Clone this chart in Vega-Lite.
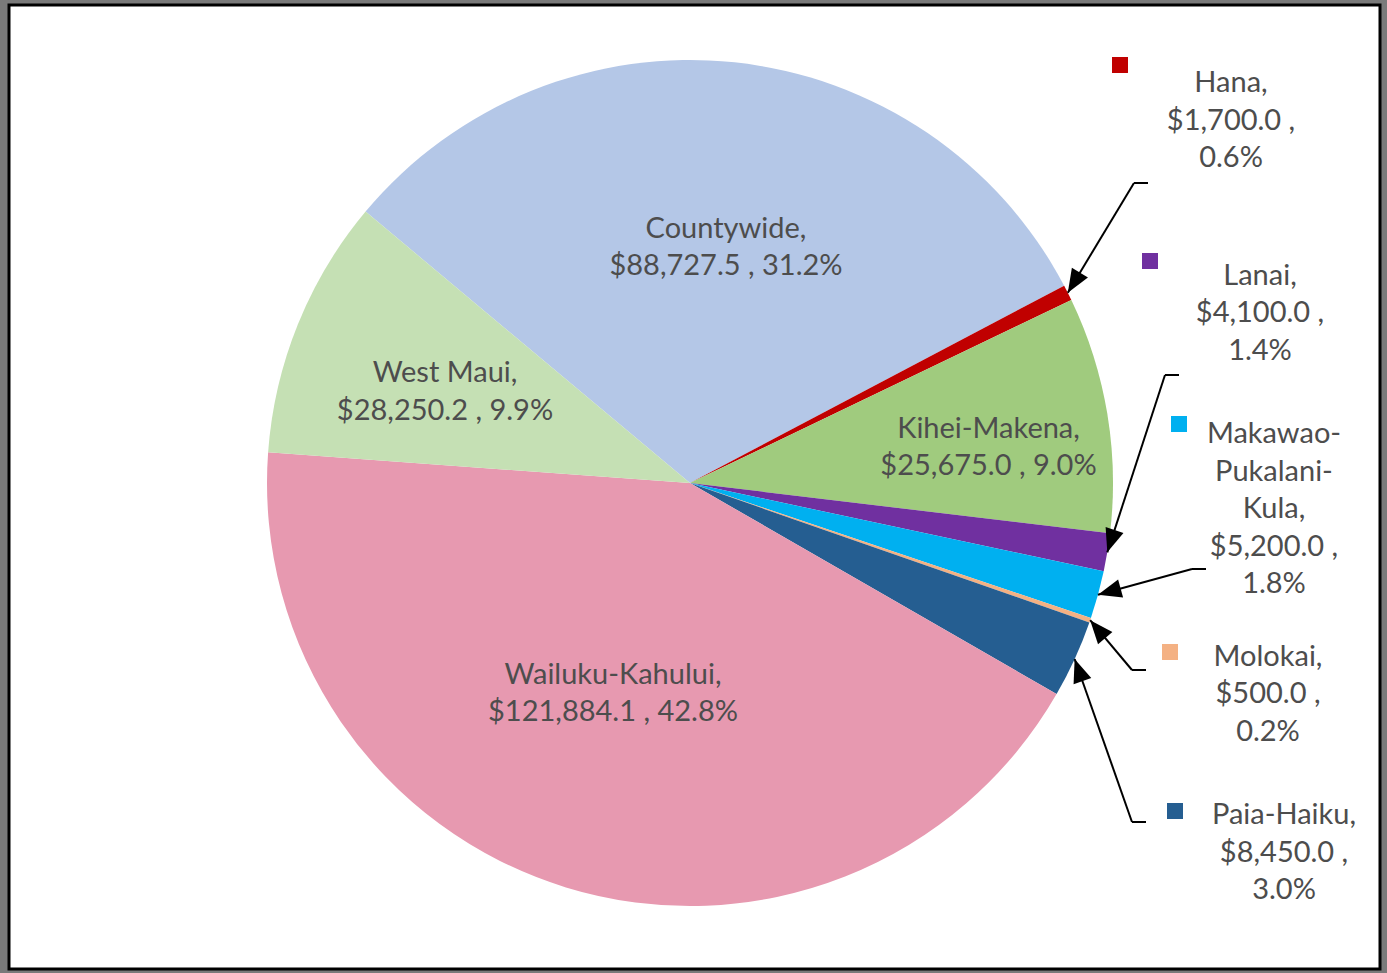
{
  "$schema": "https://vega.github.io/schema/vega-lite/v6.json",
  "width": 1387,
  "height": 973,
  "autosize": {"type": "fit", "contains": "padding"},
  "padding": {"left": 9, "top": 5, "right": 7, "bottom": 4},
  "background": "#7a7a7a",
  "view": {"fill": "white", "stroke": "black", "strokeWidth": 3},
  "config": {"text": {"font": "Lato"}},
  "datasets": {
    "pie": [
      {"name": "Countywide", "value": 88727.5},
      {"name": "Hana", "value": 1700.0},
      {"name": "Kihei-Makena", "value": 25675.0},
      {"name": "Lanai", "value": 4100.0},
      {"name": "Makawao-Pukalani-Kula", "value": 5200.0},
      {"name": "Molokai", "value": 500.0},
      {"name": "Paia-Haiku", "value": 8450.0},
      {"name": "Wailuku-Kahului", "value": 121884.1},
      {"name": "West Maui", "value": 28250.2}
    ],
    "layout": [
      {"name": "Countywide", "kind": "in", "lx": 0.0851, "ly": -0.6005},
      {"name": "West Maui", "kind": "in", "lx": -0.5792, "ly": -0.26},
      {"name": "Kihei-Makena", "kind": "in", "lx": 0.7057, "ly": -0.1277},
      {"name": "Wailuku-Kahului", "kind": "in", "lx": -0.182, "ly": 0.4539},
      {"name": "Hana", "kind": "out", "lx": 1.279, "ly": -0.9456, "sx": 1.0165, "sy": -0.9882, "ex": 1.0496, "ey": -0.7092, "ex2": 1.0827},
      {"name": "Lanai", "kind": "out", "lx": 1.3475, "ly": -0.4894, "sx": 1.0875, "sy": -0.5248, "ex": 1.1229, "ey": -0.2553, "ex2": 1.156},
      {"name": "Makawao-Pukalani-Kula", "kind": "out", "lx": 1.3806, "ly": -0.1158, "sx": 1.156, "sy": -0.1395, "ex": 1.1868, "ey": 0.2033, "ex2": 1.2199},
      {"name": "Molokai", "kind": "out", "lx": 1.3664, "ly": 0.4113, "sx": 1.1348, "sy": 0.3995, "ex": 1.0449, "ey": 0.4421, "ex2": 1.078},
      {"name": "Paia-Haiku", "kind": "out", "lx": 1.4043, "ly": 0.7849, "sx": 1.1466, "sy": 0.7754, "ex": 1.0449, "ey": 0.8014, "ex2": 1.078}
    ]
  },
  "data": {"name": "pie"},
  "transform": [
    {"joinaggregate": [{"op": "sum", "field": "value", "as": "total"}]},
    {"window": [{"op": "sum", "field": "value", "as": "cum"}], "sort": [{"field": "name"}], "frame": [null, 0]},
    {"calculate": "-0.8741 + 2 * PI * (datum.cum - datum.value / 2) / datum.total", "as": "mid"},
    {"lookup": "name", "from": {"data": {"name": "layout"}, "key": "name", "fields": ["kind", "lx", "ly", "sx", "sy", "ex", "ey", "ex2"]}},
    {"calculate": "sin(datum.mid)", "as": "tx"},
    {"calculate": "-cos(datum.mid)", "as": "ty"},
    {"calculate": "atan2(-(datum.ex - datum.tx), datum.ey - datum.ty) * 180 / PI", "as": "ang"},
    {"calculate": "'$' + format(datum.value, ',.1f')", "as": "amt"},
    {"calculate": "format(datum.value / datum.total, '.1%')", "as": "pct"},
    {"calculate": "datum.kind == 'in' ? datum.name + ',\\n' + datum.amt + ' , ' + datum.pct : replace(datum.name, 'Makawao-Pukalani-Kula', 'Makawao-\\nPukalani-\\nKula') + ',\\n' + datum.amt + ' ,\\n' + datum.pct", "as": "label"}
  ],
  "layer": [
    {
      "mark": {"type": "arc", "outerRadius": 423},
      "encoding": {
        "theta": {"field": "value", "type": "quantitative", "stack": true, "scale": {"range": [-0.8741, 5.4091]}},
        "color": {
          "field": "name", "type": "nominal", "legend": null,
          "scale": {
            "domain": ["Countywide", "Hana", "Kihei-Makena", "Lanai", "Makawao-Pukalani-Kula", "Molokai", "Paia-Haiku", "Wailuku-Kahului", "West Maui"],
            "range": ["#B4C7E7", "#C00000", "#A0CB7E", "#7030A0", "#00B0F0", "#F4B183", "#255E91", "#E799B0", "#C5E0B4"]
          }
        },
        "x": {"datum": 0, "type": "quantitative", "axis": null, "scale": {"domain": [-1.60993, 1.63121], "nice": false, "zero": false}},
        "y": {"datum": 0, "type": "quantitative", "axis": null, "scale": {"domain": [-1.13002, 1.14894], "nice": false, "zero": false, "reverse": true}}
      }
    },
    {
      "transform": [{"filter": "datum.kind == 'out'"}],
      "mark": {"type": "point", "shape": "square", "filled": true, "size": 256, "opacity": 1},
      "encoding": {
        "x": {"field": "sx", "type": "quantitative"},
        "y": {"field": "sy", "type": "quantitative"},
        "color": {"field": "name", "type": "nominal"}
      }
    },
    {
      "transform": [{"filter": "datum.kind == 'out'"}],
      "mark": {"type": "rule", "color": "black", "strokeWidth": 2},
      "encoding": {
        "x": {"field": "ex", "type": "quantitative"},
        "x2": {"field": "ex2"},
        "y": {"field": "ey", "type": "quantitative"}
      }
    },
    {
      "transform": [{"filter": "datum.kind == 'out'"}],
      "mark": {"type": "rule", "color": "black", "strokeWidth": 2},
      "encoding": {
        "x": {"field": "ex", "type": "quantitative"},
        "y": {"field": "ey", "type": "quantitative"},
        "x2": {"field": "tx"},
        "y2": {"field": "ty"}
      }
    },
    {
      "transform": [{"filter": "datum.kind == 'out'"}],
      "mark": {"type": "point", "shape": "M0,0L0.4,1L-0.4,1Z", "filled": true, "color": "black", "size": 2200, "opacity": 1},
      "encoding": {
        "x": {"field": "tx", "type": "quantitative"},
        "y": {"field": "ty", "type": "quantitative"},
        "angle": {"field": "ang", "type": "quantitative", "scale": null}
      }
    },
    {
      "transform": [{"filter": "isValid(datum.kind)"}],
      "mark": {"type": "text", "align": "center", "baseline": "middle", "fontSize": 29, "lineBreak": "\n", "lineHeight": 37.5, "color": "#4d4d4d"},
      "encoding": {
        "x": {"field": "lx", "type": "quantitative"},
        "y": {"field": "ly", "type": "quantitative"},
        "text": {"field": "label", "type": "nominal"}
      }
    }
  ]
}
